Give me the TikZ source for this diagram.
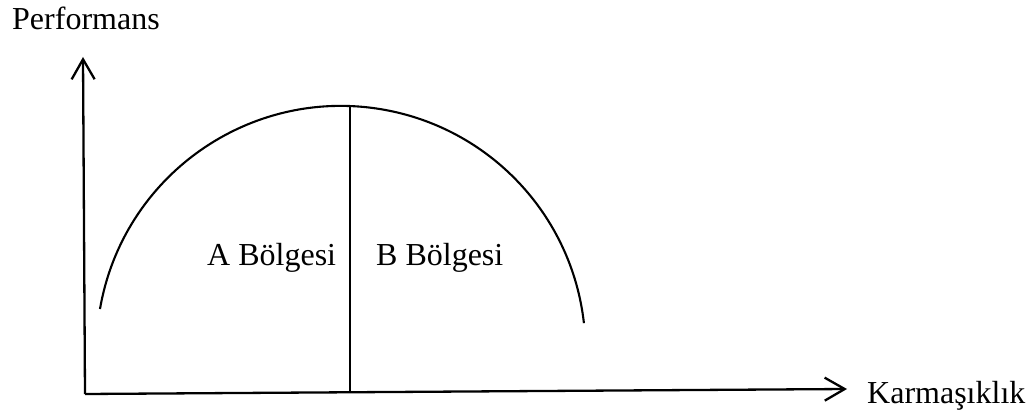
\documentclass[tikz,border=0pt]{standalone}
\usepackage{fontspec}
\setmainfont{Liberation Serif}
\usetikzlibrary{arrows.meta}
\begin{document}
\begin{tikzpicture}[x=1pt,y=-1pt,
  axis/.style={line width=2.3pt,-{Straight Barb[length=20pt,width=23pt,line width=2.3pt]}},
  curve/.style={line width=2.1pt},
  lbl/.style={anchor=base west,inner sep=0pt,font=\fontsize{32}{36}\selectfont}]
\useasboundingbox (0,0) rectangle (1034,417);
\coordinate (O) at (85,394);
\coordinate (Ytip) at (83,57);
\coordinate (Xtip) at (847,389);
\draw[axis] (O) -- (Ytip);
\draw[axis] (O) -- (Xtip);
\coordinate (arcL) at (100,309);
\draw[curve] (arcL) arc[start angle=189.75,end angle=353.6,radius=244.5];
\coordinate (top) at (350,106);
\coordinate (bot) at (350,393);
\draw[curve] (top) -- (bot);
\node[lbl] (perf) at (12,30) {Performans};
\node[lbl] (karm) at (867,403) {Karmaşıklık};
\node[lbl] (A) at (207,265) {A Bölgesi};
\node[lbl] (B) at (376,265) {B Bölgesi};
\end{tikzpicture}
\end{document}
